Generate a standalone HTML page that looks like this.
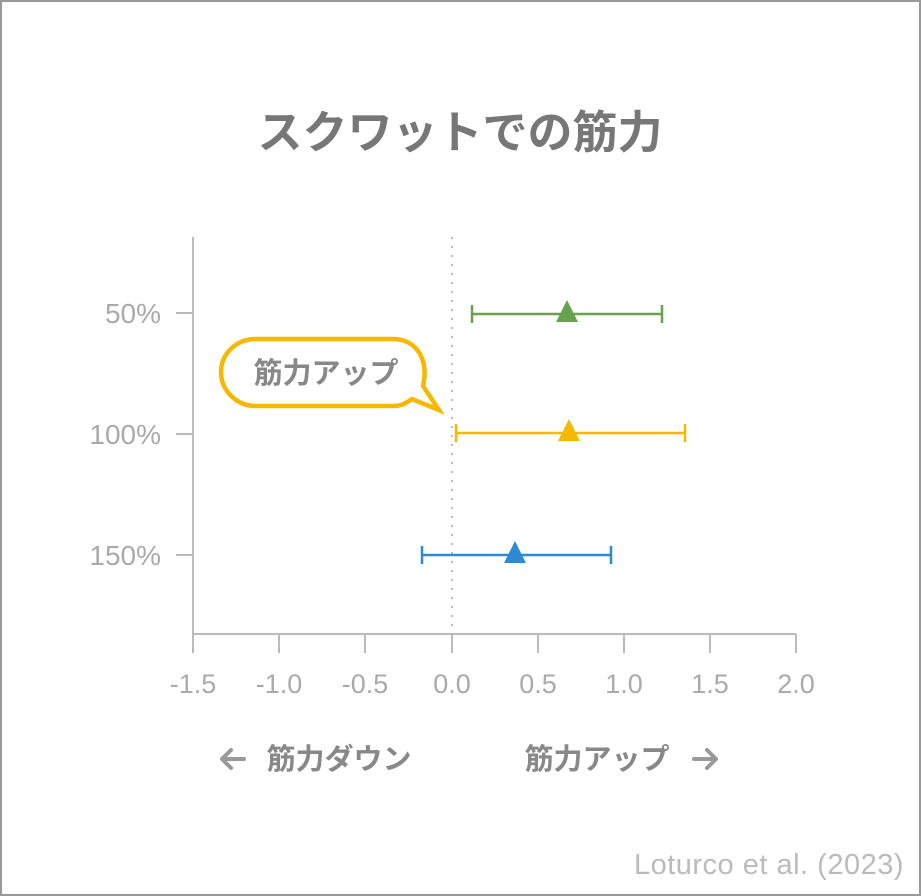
<!DOCTYPE html>
<html><head><meta charset="utf-8"><style>
html,body{margin:0;padding:0;background:#fff;}
svg{display:block;}
text{font-family:"Liberation Sans","Noto Sans CJK JP",sans-serif;}
</style></head><body>
<svg width="921" height="896" viewBox="0 0 921 896" xmlns="http://www.w3.org/2000/svg">
<rect x="1" y="1" width="919" height="894" fill="#fff" stroke="#999" stroke-width="2"/>
<text x="460" y="148" text-anchor="middle" font-size="45" font-weight="bold" fill="#777">スクワットでの筋力</text>
<g stroke="#bbb" stroke-width="2" fill="none">
<line x1="193" y1="237" x2="193" y2="634"/>
<line x1="192" y1="634" x2="796" y2="634"/>
<line x1="176" y1="313" x2="193" y2="313"/>
<line x1="176" y1="434" x2="193" y2="434"/>
<line x1="176" y1="555" x2="193" y2="555"/>
<line x1="193" y1="634" x2="193" y2="653"/>
<line x1="279" y1="634" x2="279" y2="653"/>
<line x1="365" y1="634" x2="365" y2="653"/>
<line x1="452" y1="634" x2="452" y2="653"/>
<line x1="538" y1="634" x2="538" y2="653"/>
<line x1="624" y1="634" x2="624" y2="653"/>
<line x1="710" y1="634" x2="710" y2="653"/>
<line x1="796" y1="634" x2="796" y2="653"/>
</g>
<line x1="452" y1="237" x2="452" y2="630" stroke="#bbb" stroke-width="2" stroke-dasharray="2,7"/>
<g font-size="28" fill="#aaa" text-anchor="end">
<text x="161" y="323">50%</text>
<text x="161" y="444">100%</text>
<text x="161" y="565">150%</text>
</g>
<g font-size="27" fill="#aaa" text-anchor="middle">
<text x="193" y="693">-1.5</text>
<text x="279" y="693">-1.0</text>
<text x="365" y="693">-0.5</text>
<text x="452" y="693">0.0</text>
<text x="538" y="693">0.5</text>
<text x="624" y="693">1.0</text>
<text x="710" y="693">1.5</text>
<text x="796" y="693">2.0</text>
</g>
<g stroke="#68a24f" stroke-width="2.5"><line x1="472" y1="314" x2="662" y2="314"/><line x1="472" y1="305" x2="472" y2="323"/><line x1="662" y1="305" x2="662" y2="323"/></g>
<polygon points="567,300 556,322 578,322" fill="#68a24f"/>
<g stroke="#f6b800" stroke-width="2.5"><line x1="456" y1="433" x2="685" y2="433"/><line x1="456" y1="424" x2="456" y2="442"/><line x1="685" y1="424" x2="685" y2="442"/></g>
<polygon points="569,419 558,441 580,441" fill="#f6b800"/>
<g stroke="#2f8ad6" stroke-width="2.5"><line x1="422" y1="555" x2="611" y2="555"/><line x1="422" y1="546" x2="422" y2="564"/><line x1="611" y1="546" x2="611" y2="564"/></g>
<polygon points="515,541 504,563 526,563" fill="#2f8ad6"/>
<path d="M256,339 H393 C418,339 429,362 423,386 L439,410 L412,399 C405,404 400,406 393,406 H256 C236,406 221,390 221,372 C221,354 236,339 256,339 Z" fill="#fff" stroke="#f6b800" stroke-width="4.5"/>
<text x="326" y="383" text-anchor="middle" font-size="29" font-weight="bold" fill="#888">筋力アップ</text>
<g stroke="#999" stroke-width="4" fill="none" stroke-linecap="round" stroke-linejoin="round">
<path d="M244,759 H222 M231,750 L222,759 L231,768"/>
<path d="M694,759 H716 M707,750 L716,759 L707,768"/>
</g>
<text x="339" y="769" text-anchor="middle" font-size="29" font-weight="bold" fill="#888">筋力ダウン</text>
<text x="597" y="769" text-anchor="middle" font-size="29" font-weight="bold" fill="#888">筋力アップ</text>
<text x="904" y="874" text-anchor="end" font-size="29" letter-spacing="0.5" fill="#bbb">Loturco et al. (2023)</text>
</svg>
</body></html>
